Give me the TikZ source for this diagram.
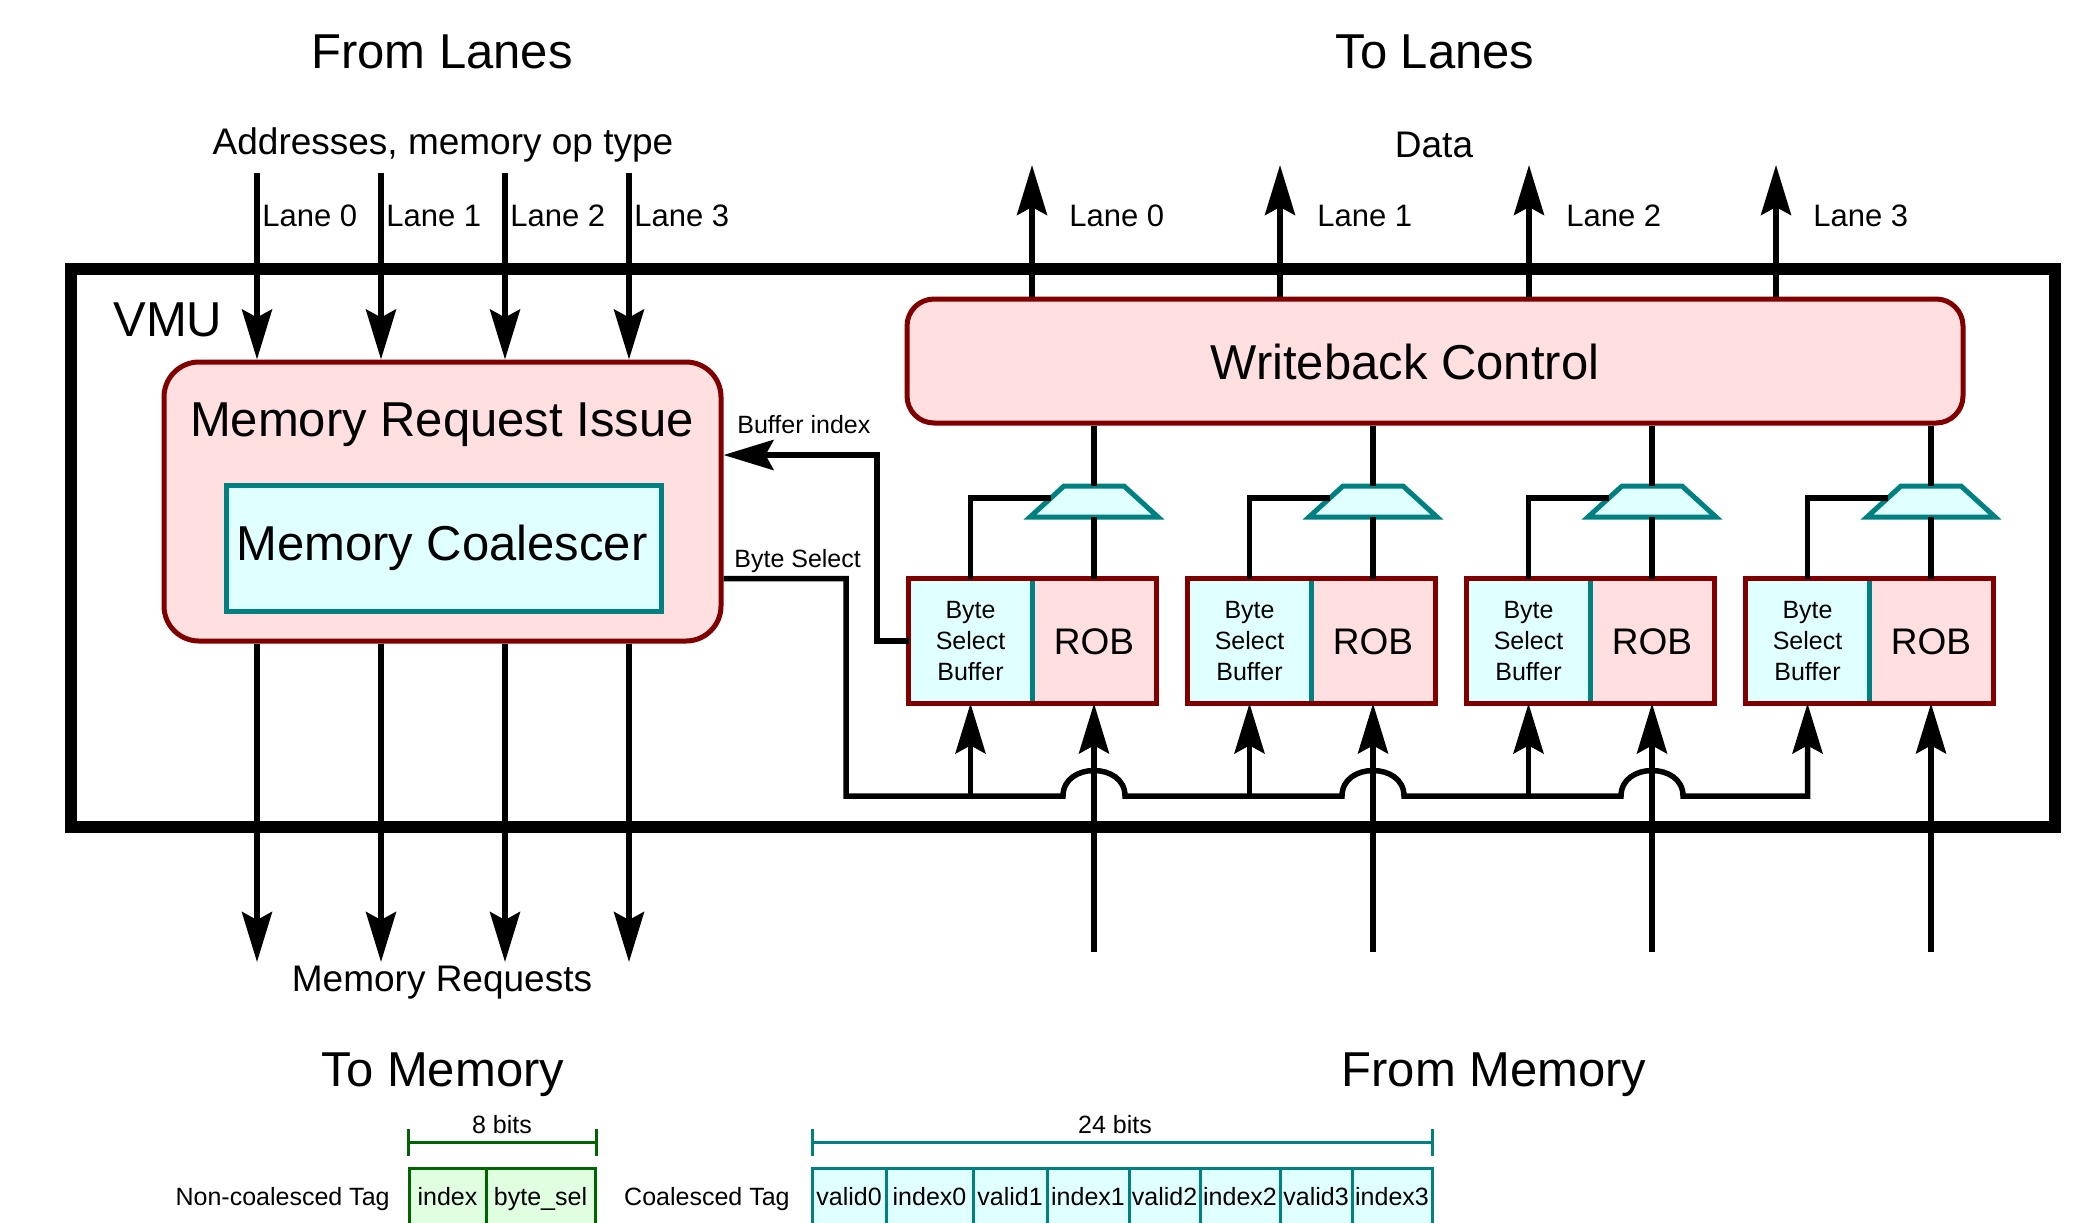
\documentclass[tikz,border=0pt]{standalone}
\usepackage{fontspec}
\setmainfont{Liberation Sans}
\usetikzlibrary{arrows.meta,shapes.geometric,calc}
\definecolor{dred}{RGB}{128,0,0}
\definecolor{pinkf}{RGB}{255,223,224}
\definecolor{tealc}{RGB}{0,128,128}
\definecolor{cyanf}{RGB}{224,255,255}
\definecolor{dgreen}{RGB}{0,100,0}
\definecolor{greenf}{RGB}{224,255,224}
\begin{document}
\begin{tikzpicture}[x=0.5pt,y=-0.5pt,
  bigt/.style={font=\fontsize{24.5pt}{29pt}\selectfont, inner sep=0pt, text height=17.5pt, text depth=0pt},
  midt/.style={font=\fontsize{18.5pt}{22pt}\selectfont, inner sep=0pt, text height=13.25pt, text depth=0pt},
  lanet/.style={font=\fontsize{15.5pt}{18pt}\selectfont, inner sep=0pt, text height=11.1pt, text depth=0pt},
  smallt/.style={font=\fontsize{12.5pt}{15.5pt}\selectfont, inner sep=0pt, text height=8.95pt, text depth=0pt},
  wire/.style={line width=2.75pt, black},
  arr/.style={wire, -{Stealth[length=25pt,width=15pt,inset=4pt]}},
  muxshape/.style={draw=tealc, fill=cyanf, line width=2.5pt},
  gcell/.style={smallt, draw=dgreen, fill=greenf, line width=1.5pt, minimum height=29pt},
  tcell/.style={smallt, draw=tealc, fill=cyanf, line width=1.5pt, minimum height=29pt}
]
\useasboundingbox (0,0) rectangle (2086,1222);
\clip (0,0) rectangle (2086,1222);

% VMU outer box
\node[draw, line width=6pt, minimum width=992pt, minimum height=279pt, inner sep=0pt] (vmu) at (1063,548) {};
\node[bigt, anchor=west] (vmulab) at (113,318.5) {VMU};

% titles
\node[bigt] (fromlanes) at (442,51) {From Lanes};
\node[bigt] (tolanes) at (1435,51) {To Lanes};
\node[midt] (addr) at (443,141.5) {Addresses, memory op type};
\node[midt] (data) at (1434,144) {Data};
\node[midt] (mreq) at (442,978) {Memory Requests};
\node[bigt] (tomem) at (443,1069) {To Memory};
\node[bigt] (frommem) at (1494,1069) {From Memory};

% Memory request issue
\node[draw=dred, fill=pinkf, line width=2.5pt, rounded corners=17.5pt, minimum width=278.5pt, minimum height=139.5pt, inner sep=0pt] (mri) at (442.5,501.5) {};
\node[bigt] (mrit) at (442,418.5) {Memory Request Issue};
\node[draw=tealc, fill=cyanf, line width=2.5pt, minimum width=217.5pt, minimum height=63pt, inner sep=0pt] (mc) at (443.5,548) {};
\node[bigt] (mct) at (442,543) {Memory Coalescer};

% Writeback control
\node[draw=dred, fill=pinkf, line width=2.5pt, rounded corners=13.5pt, minimum width=528pt, minimum height=62pt, inner sep=0pt] (wb) at (1435,361) {};
\node[bigt] (wbt) at (1405,362) {Writeback Control};

% lanes in
\foreach \x [count=\i from 0] in {257,381,505,629} {
  \coordinate (li\i) at (\x,173);
  \coordinate (lo\i) at (\x,962);
  \draw[arr] (li\i) -- (li\i |- mri.north);
  \draw[arr] (li\i |- mri.south) -- (lo\i);
  \node[lanet, anchor=west] (ll\i) at (\x+5,215) {Lane \i};
}

% lanes out
\foreach \x [count=\i from 0] in {1032,1280,1529,1776} {
  \coordinate (ro\i) at (\x,165);
  \draw[arr] (wb.north -| ro\i) -- (ro\i);
  \node[lanet, anchor=west] (rl\i) at (\x+37,215.5) {Lane \i};
}

% units
\foreach \i in {0,1,2,3} {
  \pgfmathsetmacro{\dx}{279*\i}
  \node[fill=cyanf, minimum width=61.5pt, minimum height=62pt, inner sep=0pt,
        font=\fontsize{12.5pt}{15.5pt}\selectfont, align=center] (bsb\i) at (970.5+\dx,641) {Byte\\Select\\Buffer};
  \node[midt, fill=pinkf, minimum width=62pt, minimum height=62pt] (rob\i) at (1094+\dx,641) {ROB};
  \draw[tealc, line width=2.8pt] (bsb\i.north east) -- (bsb\i.south east);
  \draw[dred, line width=2.8pt] (bsb\i.north west) rectangle (rob\i.south east);
  \coordinate (mt\i) at (1094+\dx,486);
  \coordinate (mb\i) at (1094+\dx,517);
  \coordinate (ml\i) at (1050.5+\dx,498);
  \draw[muxshape] ($(mt\i)+(-30,0)$) -- ($(mt\i)+(30,0)$) -- ($(mb\i)+(64,0)$) -- ($(mb\i)+(-64,0)$) -- cycle;
  \draw[wire] (wb.south -| mt\i) -- (mt\i);
  \draw[wire] (mb\i) -- (rob\i.north);
  \draw[wire] (bsb\i.north) |- (ml\i);
  \coordinate (rin\i) at (1094+\dx,952);
  \draw[arr] (rin\i) -- (rob\i.south);
}

% buffer index
\coordinate (bi) at (877,455);
\draw[arr] (bsb0.west) -| (bi) -- (mri.east |- bi);
\node[smallt, anchor=west] (bilab) at (737,424.5) {Buffer index};

% byte select bus
\coordinate (bus) at (846,796);
\node[smallt, anchor=west] (bslab) at (734,558.5) {Byte Select};
\draw[arr] (mri.east |- bsb0.north) -| (bus)
  -- ($(rob0.south |- bus)+(-31,0)$) .. controls +(0,-34) and +(0,-34) .. ($(rob0.south |- bus)+(31,0)$)
  -- ($(rob1.south |- bus)+(-31,0)$) .. controls +(0,-34) and +(0,-34) .. ($(rob1.south |- bus)+(31,0)$)
  -- ($(rob2.south |- bus)+(-31,0)$) .. controls +(0,-34) and +(0,-34) .. ($(rob2.south |- bus)+(31,0)$)
  -- (bsb3.south |- bus) -- (bsb3.south);
\foreach \i in {0,1,2} {
  \draw[arr] (bsb\i.south |- bus) -- (bsb\i.south);
}

% tag formats
\draw[dgreen, line width=1.5pt] (408,1129) -- (408,1156) (596,1129) -- (596,1156) (408,1142) -- (596,1142);
\node[smallt] (eightbits) at (502,1125) {8 bits};
\node[smallt, anchor=east] (nctag) at (390,1196.5) {Non-coalesced Tag};
\node[gcell, minimum width=38.5pt] (ncidx) at (447.5,1197) {index};
\node[gcell, minimum width=54.5pt] (ncbs) at (540.5,1197) {byte\_sel};

\draw[tealc, line width=1.5pt] (812,1129) -- (812,1156) (1432,1129) -- (1432,1156) (812,1142) -- (1432,1142);
\node[smallt] (tfbits) at (1115,1125) {24 bits};
\node[smallt, anchor=east] (ctag) at (790,1196.5) {Coalesced Tag};
\foreach \c/\w/\t [count=\k] in {849/37/valid0, 929.5/43.5/index0, 1010/37/valid1, 1088/41/index1,
   1164.5/35.5/valid2, 1240/40/index2, 1316/36/valid3, 1392/40/index3} {
  \node[tcell, minimum width=\w pt] (cc\k) at (\c,1197) {\t};
}
\end{tikzpicture}
\end{document}
